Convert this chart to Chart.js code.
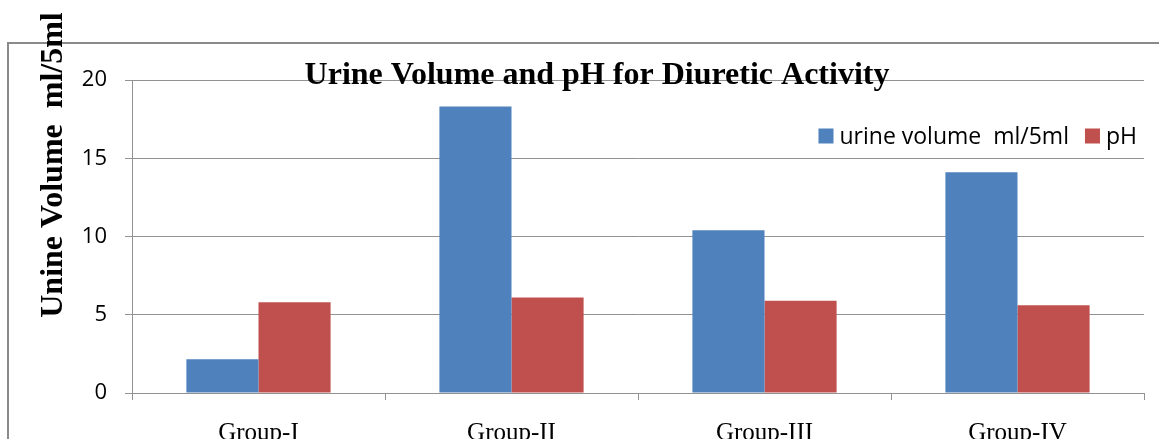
<!DOCTYPE html>
<html>
<head>
<meta charset="utf-8">
<script src="https://cdn.jsdelivr.net/npm/chart.js@4.4.0/dist/chart.umd.min.js"></script>
<style>
  html, body { margin: 0; padding: 0; background: #fff; overflow: hidden; }
  .wrap { position: relative; width: 1159px; height: 480px; }
  .frame { position: absolute; left: 7px; top: 42px; right: -5px; bottom: -5px;
           border-top: 2px solid #8a8a8a; border-left: 2px solid #8a8a8a; }
  canvas { position: absolute; left: 0; top: 0; }
</style>
</head>
<body>
<div class="wrap">
  <div class="frame"></div>
  <canvas id="chart" width="1159" height="480"></canvas>
</div>
<script>
const chartTitle = 'Urine Volume and pH for Diuretic Activity';
const yTitle = 'Unine Volume  ml/5ml';
const categories = ['Group-I', 'Group-II', 'Group-III', 'Group-IV'];
const seriesNames = ['urine volume  ml/5ml', 'pH'];
const urineVolume = [2.15, 18.3, 10.4, 14.1];
const phValues = [5.8, 6.1, 5.9, 5.6];
const yMin = 0, yMax = 20, yStep = 5;

const gridColor = '#929292';

// title, rotated y title and legend drawn over the plot like the original
const overlayText = {
  id: 'overlayText',
  afterDraw(chart) {
    const ctx = chart.ctx;
    const area = chart.chartArea;
    ctx.save();
    ctx.fillStyle = '#000';
    ctx.font = 'bold 32px "Liberation Serif"';
    ctx.textAlign = 'center';
    ctx.textBaseline = 'alphabetic';
    ctx.fillText(chartTitle, area.left + 465, area.top + 4);

    ctx.save();
    ctx.translate(62, area.top + 85);
    ctx.rotate(-Math.PI / 2);
    ctx.fillText(yTitle, 0, 0);
    ctx.restore();

    // legend, right aligned
    ctx.font = '23px "Open Sans"';
    ctx.textAlign = 'left';
    ctx.textBaseline = 'middle';
    const box = 15, gap = 6, itemGap = 16;
    const cy = area.top + 56;
    let x = area.right - 7;
    const items = chart.data.datasets.map(d => ({ label: d.label, color: d.backgroundColor }));
    for (let i = items.length - 1; i >= 0; i--) {
      const w = ctx.measureText(items[i].label).width;
      x -= w;
      ctx.fillStyle = '#000';
      ctx.fillText(items[i].label, x, cy + 1);
      x -= gap + box;
      ctx.fillStyle = items[i].color;
      ctx.fillRect(x, cy - box / 2, box, box);
      x -= itemGap;
    }
    ctx.restore();
  }
};

const ctx = document.getElementById('chart').getContext('2d');
new Chart(ctx, {
  type: 'bar',
  data: {
    labels: categories,
    datasets: [
      { label: seriesNames[0], data: urineVolume, backgroundColor: '#4F81BD' },
      { label: seriesNames[1], data: phValues, backgroundColor: '#C0504D' }
    ]
  },
  options: {
    responsive: false,
    animation: false,
    layout: { padding: { top: 80, right: 15, left: 0, bottom: 0 } },
    datasets: { bar: { categoryPercentage: 0.57, barPercentage: 1.0 } },
    plugins: {
      legend: { display: false },
      title: { display: false },
      tooltip: { enabled: false }
    },
    scales: {
      x: {
        offset: true,
        grid: { display: true, drawOnChartArea: false, drawTicks: true, tickLength: 7,
                color: gridColor, offset: true },
        border: { color: gridColor, width: 1 },
        ticks: { color: '#000', padding: 18, font: { family: 'Liberation Serif', size: 25 } },
        afterFit(s) { s.height = 87; }
      },
      y: {
        min: yMin,
        max: yMax,
        ticks: { stepSize: yStep, color: '#000', padding: 18,
                 font: { family: 'Open Sans', size: 22 } },
        grid: { color: gridColor, tickLength: 7, lineWidth: 1 },
        border: { color: gridColor, width: 1 },
        afterFit(s) { s.width = 132; }
      }
    }
  },
  plugins: [overlayText]
});
</script>
</body>
</html>
